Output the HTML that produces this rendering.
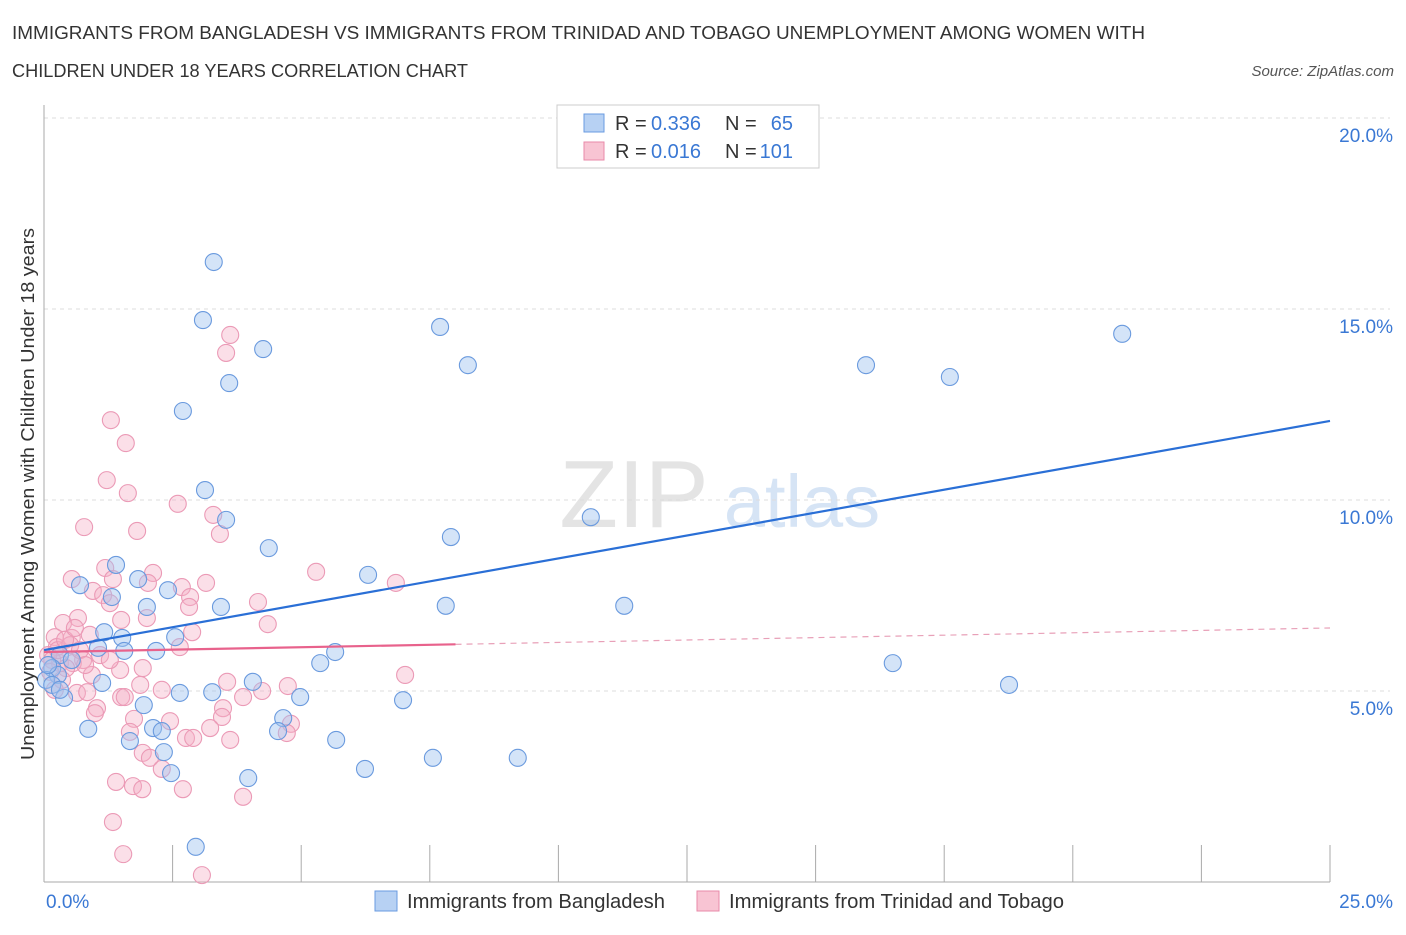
<!DOCTYPE html>
<html><head><meta charset="utf-8"><style>
body{margin:0;background:#fff;font-family:"Liberation Sans",sans-serif;}
svg text{font-family:"Liberation Sans",sans-serif;}
</style></head><body>
<svg width="1406" height="930">
<text x="12" y="39" font-size="18" textLength="1133" lengthAdjust="spacingAndGlyphs" fill="#333">IMMIGRANTS FROM BANGLADESH VS IMMIGRANTS FROM TRINIDAD AND TOBAGO UNEMPLOYMENT AMONG WOMEN WITH</text>
<text x="12" y="77" font-size="18" textLength="456" lengthAdjust="spacingAndGlyphs" fill="#333">CHILDREN UNDER 18 YEARS CORRELATION CHART</text>
<text x="1394" y="76" font-size="15" fill="#555" font-style="italic" text-anchor="end">Source: ZipAtlas.com</text>
<g>
<text x="634" y="527" font-size="96" fill="#e4e4e4" font-family="Liberation Serif" text-anchor="middle">ZIP</text>
<text x="802" y="527" font-size="74" fill="#d6e4f5" text-anchor="middle">atlas</text>
</g>
<g id="grid"></g>
<g id="axes"></g>
<g id="marks"></g>
<text transform="translate(34,494) rotate(-90)" font-size="18" textLength="532" lengthAdjust="spacingAndGlyphs" fill="#333" text-anchor="middle">Unemployment Among Women with Children Under 18 years</text>
<g>
<rect x="557" y="105" width="262" height="63" fill="#fff" stroke="#ccc"/>
<rect x="584" y="114" width="20" height="18" fill="#b7d1f3" stroke="#6a9be0"/>
<text x="615" y="130" font-size="20" fill="#333">R =</text>
<text x="651" y="130" font-size="20" fill="#3a78d4">0.336</text>
<text x="725" y="130" font-size="20" fill="#333">N =</text>
<text x="793" y="130" font-size="20" fill="#3a78d4" text-anchor="end">65</text>
<rect x="584" y="142" width="20" height="18" fill="#f8c4d3" stroke="#e88aa8"/>
<text x="615" y="158" font-size="20" fill="#333">R =</text>
<text x="651" y="158" font-size="20" fill="#3a78d4">0.016</text>
<text x="725" y="158" font-size="20" fill="#333">N =</text>
<text x="793" y="158" font-size="20" fill="#3a78d4" text-anchor="end">101</text>
</g>
<g>
<rect x="375" y="891" width="22" height="20" fill="#b7d1f3" stroke="#6a9be0"/>
<text x="407" y="908" font-size="20" textLength="258" lengthAdjust="spacingAndGlyphs" fill="#333">Immigrants from Bangladesh</text>
<rect x="697" y="891" width="22" height="20" fill="#f8c4d3" stroke="#e88aa8"/>
<text x="729" y="908" font-size="20" textLength="335" lengthAdjust="spacingAndGlyphs" fill="#333">Immigrants from Trinidad and Tobago</text>
</g>
</svg>
<script>
const yTicks=[5,10,15,20];
const yTickLabels=["5.0%","10.0%","15.0%","20.0%"];
const xTicks=[0,2.5,5,7.5,10,12.5,15,17.5,20,22.5,25];
const xEndLabels=["0.0%","25.0%"];
const blueX=[3.30,3.09,4.26,3.60,2.70,7.70,8.24,15.98,17.61,20.96,3.13,3.54,10.63,7.91,4.37,1.40,6.30,1.83,0.70,1.32,2.41,2.00,3.44,7.81,11.28,1.17,1.52,2.55,1.05,5.66,1.56,2.18,0.31,5.37,16.50,0.16,0.27,1.13,4.06,2.64,3.27,4.98,6.98,18.76,0.39,1.94,4.65,4.55,0.86,2.12,2.29,1.67,5.68,2.33,7.56,9.21,6.24,2.47,3.97,2.95,0.04,0.16,0.31,0.54,0.08];
const blueY=[16.23,14.71,13.95,13.06,12.33,14.53,13.53,13.53,13.22,14.35,10.26,9.48,9.55,9.03,8.74,8.30,8.04,7.93,7.77,7.46,7.64,7.20,7.20,7.23,7.23,6.54,6.39,6.41,6.13,6.02,6.05,6.05,5.94,5.73,5.73,5.60,5.42,5.21,5.24,4.95,4.97,4.84,4.76,5.16,4.82,4.63,4.29,3.95,4.01,4.03,3.95,3.69,3.72,3.40,3.25,3.25,2.96,2.85,2.72,0.92,5.29,5.16,5.03,5.81,5.68];
const pinkX=[3.62,3.54,1.30,1.59,1.22,1.63,2.60,3.29,3.42,0.78,1.81,5.29,6.84,0.54,1.19,1.34,2.12,2.02,0.95,1.15,1.28,2.68,2.84,2.82,3.15,4.16,4.35,2.00,1.50,0.66,0.37,2.88,2.64,0.54,0.21,0.89,0.25,0.31,0.76,0.56,1.48,1.92,1.87,7.02,4.74,4.24,3.56,3.87,2.29,1.50,1.57,0.64,0.84,1.03,0.99,1.75,2.45,3.48,3.46,1.67,3.23,2.76,2.90,3.62,4.80,4.72,1.92,2.06,2.29,1.40,1.73,1.91,2.70,3.87,1.34,1.54,3.07,0.08,0.16,0.27,0.43,0.12,0.35,0.51,0.70,0.21,1.09,1.28,0.93,0.80,0.41,0.60];
const pinkY=[14.32,13.85,12.09,11.49,10.52,10.18,9.90,9.61,9.11,9.29,9.19,8.12,7.83,7.93,8.22,7.93,8.09,7.83,7.62,7.51,7.30,7.72,7.46,7.20,7.83,7.33,6.75,6.91,6.86,6.91,6.78,6.54,6.15,6.39,6.41,6.47,6.15,5.73,5.81,5.73,5.55,5.60,5.16,5.42,5.13,5.00,5.24,4.84,5.03,4.84,4.84,4.95,4.97,4.55,4.42,4.27,4.21,4.55,4.32,3.93,4.03,3.77,3.77,3.72,4.14,3.90,3.38,3.25,2.96,2.62,2.51,2.43,2.43,2.23,1.57,0.73,0.18,5.94,5.81,6.07,5.60,5.50,5.29,6.20,6.07,5.03,5.94,5.81,5.42,5.68,6.34,6.65];
const blueTrend=[6.07,12.07];
const pinkTrend=[6.02,6.65];
const pinkSolidEnd=8.0;

const NS="http://www.w3.org/2000/svg";
const X0=44,X1=1330,Y0=882,Y1=118;
function sx(v){return X0+(v/25)*(X1-X0);}
function sy(v){return Y0-(v/20)*(Y0-Y1);}
function mk(tag,attrs,parent){const e=document.createElementNS(NS,tag);for(const k in attrs)e.setAttribute(k,attrs[k]);parent.appendChild(e);return e;}
const grid=document.getElementById('grid'),axes=document.getElementById('axes'),marks=document.getElementById('marks');
yTicks.forEach((t,i)=>{
  const l=mk('line',{x1:X0,x2:X1+60,y1:sy(t),y2:sy(t),stroke:'#ddd','stroke-dasharray':'4,4'},grid);
  
  
  const tx=mk('text',{x:1393,y:sy(t)+24,'font-size':19,fill:'#3a78d4','text-anchor':'end'},axes);
  tx.textContent=yTickLabels[i];
  
  
});
const ya=mk('line',{x1:X0,x2:X0,y1:105,y2:Y0,stroke:'#aaa'},axes);


const xa=mk('line',{x1:X0,x2:X1,y1:Y0,y2:Y0,stroke:'#aaa'},axes);


xTicks.forEach(t=>{
  const l=mk('line',{x1:sx(t),x2:sx(t),y1:845,y2:Y0,stroke:'#aaa'},axes);
  
  
});
[[0,'start',46],[25,'end',1393]].forEach((d,i)=>{
  const tx=mk('text',{x:d[2],y:908,'font-size':19,fill:'#3a78d4','text-anchor':d[1]},axes);
  tx.textContent=xEndLabels[i];
  
  
});
pinkX.forEach((x,i)=>{
  const c=mk('circle',{cx:sx(x),cy:sy(pinkY[i]),r:8.5,fill:'rgba(246,176,198,0.4)',stroke:'#eb9ab6','stroke-width':1.1},marks);
  
  
});
blueX.forEach((x,i)=>{
  const c=mk('circle',{cx:sx(x),cy:sy(blueY[i]),r:8.5,fill:'rgba(160,196,240,0.45)',stroke:'#6a9ade','stroke-width':1.1},marks);
  
  
});
const bl=mk('line',{x1:sx(0),y1:sy(blueTrend[0]),x2:sx(25),y2:sy(blueTrend[1]),stroke:'#2a6fd6','stroke-width':2.2},marks);


const pm=pinkTrend[0]+(pinkTrend[1]-pinkTrend[0])*pinkSolidEnd/25;
const pl=mk('line',{x1:sx(0),y1:sy(pinkTrend[0]),x2:sx(pinkSolidEnd),y2:sy(pm),stroke:'#e8628c','stroke-width':2.2},marks);


const pd=mk('line',{x1:sx(pinkSolidEnd),y1:sy(pm),x2:sx(25),y2:sy(pinkTrend[1]),stroke:'#e8a0b8','stroke-width':1.2,'stroke-dasharray':'6,5'},marks);


</script>
</body></html>
